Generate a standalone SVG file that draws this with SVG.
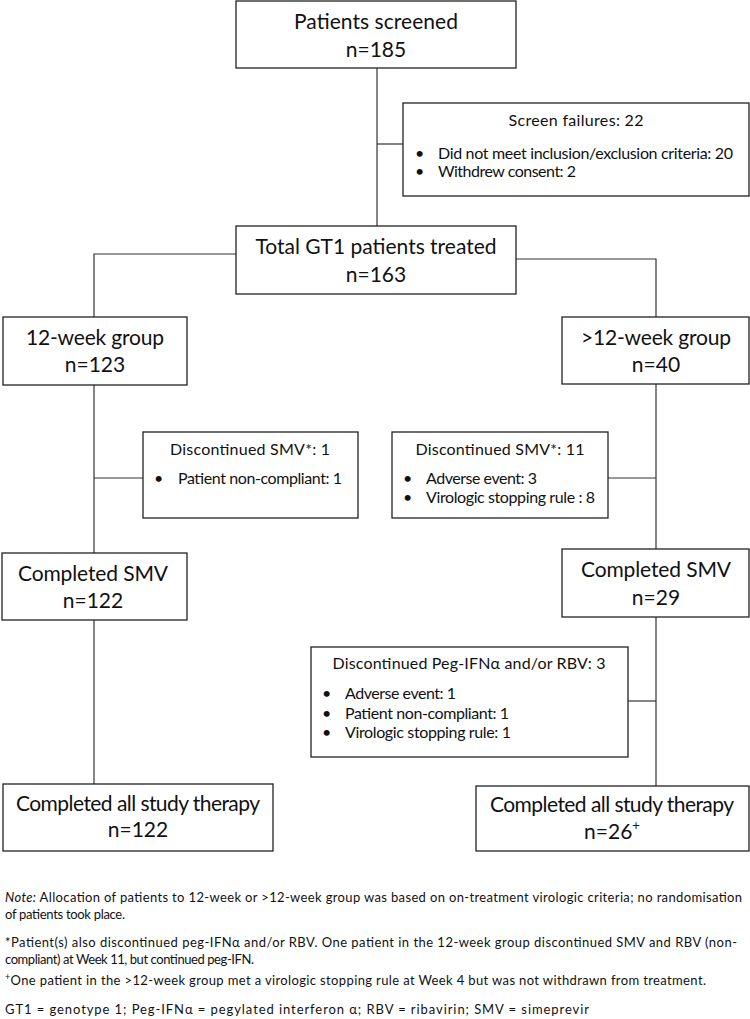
<svg xmlns="http://www.w3.org/2000/svg" width="750" height="1019" viewBox="0 0 750 1019">
<style>
.box{fill:#fff;stroke:#222;stroke-width:1.3}
.ln{fill:none;stroke:#333;stroke-width:1.2}
text{font-family:Lato,"Noto Sans","DejaVu Sans",sans-serif;fill:#111}
.big{font-size:21px;text-anchor:middle}
.mid{font-size:16px}
.midc{font-size:16px;text-anchor:middle}
.fn{font-size:13px}
</style>
<rect width="750" height="1019" fill="#fff"/>
<g id="connectors">
<path class="ln" d="M377 68V226"/>
<path class="ln" d="M377 144H403"/>
<path class="ln" d="M236 254H94V317"/>
<path class="ln" d="M516 259H656V317"/>
<path class="ln" d="M94 385V553"/>
<path class="ln" d="M94 478H143"/>
<path class="ln" d="M94 620V784"/>
<path class="ln" d="M656 384V549"/>
<path class="ln" d="M608 478H656"/>
<path class="ln" d="M656 617V786"/>
<path class="ln" d="M628 701H656"/>
</g>
<g id="screened">
<rect class="box" x="236" y="1" width="280" height="67"/>
<text class="big" x="376" y="29" textLength="164">Patients screened</text>
<text class="big" x="376" y="57">n=185</text>
</g>
<g id="screenfail">
<rect class="box" x="403" y="103" width="346" height="93"/>
<text class="midc" x="576" y="126" textLength="135">Screen failures: 22</text>
<text class="mid" x="415" y="159">•</text>
<text class="mid" x="438" y="159" textLength="295">Did not meet inclusion/exclusion criteria: 20</text>
<text class="mid" x="415" y="177">•</text>
<text class="mid" x="438" y="177" textLength="138">Withdrew consent: 2</text>
</g>
<g id="total">
<rect class="box" x="236" y="226" width="280" height="68"/>
<text class="big" x="376" y="254" textLength="241">Total GT1 patients treated</text>
<text class="big" x="376" y="282">n=163</text>
</g>
<g id="g12">
<rect class="box" x="3" y="317" width="184" height="68"/>
<text class="big" x="95" y="345" textLength="138">12-week group</text>
<text class="big" x="95" y="372">n=123</text>
</g>
<g id="g12plus">
<rect class="box" x="562" y="317" width="187" height="67"/>
<text class="big" x="656" y="345" textLength="150">&gt;12-week group</text>
<text class="big" x="656" y="372">n=40</text>
</g>
<g id="disc1">
<rect class="box" x="143" y="432" width="215" height="86"/>
<text class="midc" x="250" y="455" textLength="160">Discontinued SMV*: 1</text>
<text class="mid" x="154" y="484">•</text>
<text class="mid" x="178" y="484" textLength="164">Patient non-compliant: 1</text>
</g>
<g id="disc11">
<rect class="box" x="392" y="432" width="216" height="86"/>
<text class="midc" x="500" y="455" textLength="169">Discontinued SMV*: 11</text>
<text class="mid" x="403" y="484">•</text>
<text class="mid" x="426" y="484" textLength="111">Adverse event: 3</text>
<text class="mid" x="403" y="503">•</text>
<text class="mid" x="426" y="503" textLength="169">Virologic stopping rule : 8</text>
</g>
<g id="csmv1">
<rect class="box" x="2" y="553" width="185" height="67"/>
<text class="big" x="93" y="581" textLength="150">Completed SMV</text>
<text class="big" x="93" y="608">n=122</text>
</g>
<g id="csmv2">
<rect class="box" x="562" y="549" width="187" height="68"/>
<text class="big" x="656" y="577" textLength="150">Completed SMV</text>
<text class="big" x="656" y="605">n=29</text>
</g>
<g id="discpeg">
<rect class="box" x="311" y="647" width="317" height="110"/>
<text class="midc" x="469" y="669" textLength="273">Discontinued Peg-IFNα and/or RBV: 3</text>
<text class="mid" x="322" y="699">•</text>
<text class="mid" x="345" y="699" textLength="111">Adverse event: 1</text>
<text class="mid" x="322" y="719">•</text>
<text class="mid" x="345" y="719" textLength="164">Patient non-compliant: 1</text>
<text class="mid" x="322" y="738">•</text>
<text class="mid" x="345" y="738" textLength="166">Virologic stopping rule: 1</text>
</g>
<g id="call1">
<rect class="box" x="3" y="784" width="270" height="67"/>
<text class="big" x="138" y="811" textLength="244">Completed all study therapy</text>
<text class="big" x="138" y="837">n=122</text>
</g>
<g id="call2">
<rect class="box" x="476" y="786" width="273" height="65"/>
<text class="big" x="612" y="812" textLength="244">Completed all study therapy</text>
<text class="big" x="612" y="839">n=26<tspan font-size="13" dy="-9">+</tspan></text>
</g>
<g id="footnotes">
<text class="fn" x="5" y="902" textLength="737"><tspan font-style="italic">Note:</tspan> Allocation of patients to 12-week or &gt;12-week group was based on on-treatment virologic criteria; no randomisation</text>
<text class="fn" x="5" y="919" textLength="120">of patients took place.</text>
<text class="fn" x="5" y="947" textLength="732">*Patient(s) also discontinued peg-IFNα and/or RBV. One patient in the 12-week group discontinued SMV and RBV (non-</text>
<text class="fn" x="5" y="964" textLength="249">compliant) at Week 11, but continued peg-IFN.</text>
<text class="fn" x="5" y="985" textLength="701"><tspan font-size="9" dy="-5">+</tspan><tspan dy="5">One patient in the &gt;12-week group met a virologic stopping rule at Week 4 but was not withdrawn from treatment.</tspan></text>
<text class="fn" x="5" y="1014" textLength="584">GT1 = genotype 1; Peg-IFNα = pegylated interferon α; RBV = ribavirin; SMV = simeprevir</text>
</g>
</svg>
